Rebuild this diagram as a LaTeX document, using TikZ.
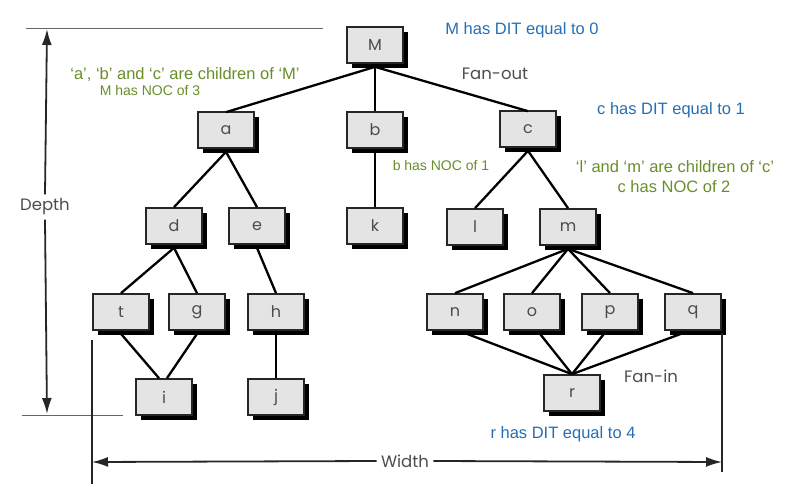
\documentclass[tikz,border=0pt]{standalone}
\usepackage{fontspec}
\setmainfont{Liberation Sans}
\newfontfamily\treefont{Poppins}
\usepackage{tikz}
\usetikzlibrary{arrows.meta,positioning,shadows,calc}
\definecolor{ditblue}{RGB}{38,110,180}
\definecolor{nocgreen}{RGB}{104,142,42}
\definecolor{boxgray}{RGB}{228,228,228}
\tikzset{
  cls/.style={draw=black!85,fill=boxgray,line width=1.7pt,minimum width=56pt,minimum height=36pt,
    inner sep=0pt,text=black!70,font=\treefont\fontsize{16}{18}\selectfont,
    drop shadow={shadow xshift=5pt,shadow yshift=-5pt,fill=black,opacity=1}},
  dit/.style={text=ditblue,font=\fontsize{16.5}{19}\selectfont},
  noc/.style={text=nocgreen,font=\fontsize{16.5}{19}\selectfont},
  nocsmall/.style={text=nocgreen,font=\fontsize{14}{16}\selectfont},
  dimtext/.style={text=black!70,font=\treefont\fontsize{16.5}{18}\selectfont},
  dimline/.style={line width=1.8pt,black!85},
  extline/.style={line width=1pt,black!60},
  dimtip/.style={-{Latex[length=16pt,width=10pt]}}
}
\begin{document}
\begin{tikzpicture}[x=1pt,y=-1pt,line width=2.3pt]
\useasboundingbox (0,0) rectangle (791,486);
% classes
\node (vM) at (375,45) [cls] {M};
\node (va) at (226,130) [cls] {a};
\node (vb) at (375,130) [cls] {b};
\node (vc) at (528,129) [cls] {c};
\node (vd) at (174,226) [cls] {d};
\node (ve) at (257,226) [cls] {e};
\node (vk) at (375,226) [cls] {k};
\node (vl) at (475,227) [cls] {l};
\node (vm) at (568,227) [cls] {m};
\node (vt) at (121,312) [cls] {t};
\node (vg) at (197,312) [cls] {g};
\node (vh) at (276,312) [cls] {h};
\node (vn) at (455,312) [cls] {n};
\node (vo) at (532,312) [cls] {o};
\node (vp) at (610,312) [cls] {p};
\node (vq) at (693,312) [cls] {q};
\node (vi) at (164,397) [cls] {i};
\node (vj) at (276,397) [cls] {j};
\node (vr) at (572,393) [cls] {r};

\draw ([yshift=-3pt]vM.south) edge ([yshift=-1pt]va.north);
\draw ([yshift=-3pt]vM.south) edge (vb.north);
\draw ([yshift=-3pt]vM.south) edge ([yshift=-1pt]vc.north);
\draw ([yshift=-3pt]va.south) edge (vd.north);
\draw ([yshift=-3pt]va.south) edge (ve.north);
\draw ([yshift=-3pt]vb.south) edge (vk.north);
\draw ([yshift=-3pt]vc.south) edge (vl.north);
\draw ([yshift=-3pt]vc.south) edge (vm.north);
\draw ([yshift=-3pt]vd.south) edge (vt.north);
\draw ([yshift=-3pt]vd.south) edge (vg.north);
\draw ([yshift=-3pt]ve.south) edge (vh.north);
\draw ([yshift=-3pt]vt.south) edge ([xshift=-5pt]vi.north);
\draw ([yshift=-3pt]vg.south) edge ([xshift=3pt]vi.north);
\draw ([yshift=-3pt]vh.south) edge (vj.north);
\draw ([yshift=-3pt]vm.south) edge (vn.north);
\draw ([yshift=-3pt]vm.south) edge (vo.north);
\draw ([yshift=-3pt]vm.south) edge (vp.north);
\draw ([yshift=-3pt]vm.south) edge (vq.north);
\draw ([xshift=12pt,yshift=-3pt]vn.south) edge (vr.north);
\draw ([xshift=8pt,yshift=-3pt]vo.south) edge (vr.north);
\draw ([xshift=-6pt,yshift=-3pt]vp.south) edge (vr.north);
\draw ([xshift=-12pt,yshift=-3pt]vq.south) edge (vr.north);

% depth and width
\node (depth) at (45,207) [dimtext] {Depth};
\coordinate (dtop) at (47,29);
\coordinate (dbot) at (47,414);
\draw[extline] (26,29) -- (323,29);
\draw[extline] (22,415) -- (123,415);
\draw[dimline,dimtip] (depth.north) -- (dtop);
\draw[dimline,dimtip] (depth.south) -- (dbot);
\node (width) at (405,461) [dimtext] {Width};
\coordinate (wleft) at (92,462);
\coordinate (wright) at (722,462);
\draw[dimline] (92,340) -- (92,484);
\draw[dimline] (722,333) -- (722,472);
\draw[dimline,dimtip] (width.west) -- (wleft);
\draw[dimline,dimtip] (width.east) -- (wright);
\node (fanout) at (495,74) [dimtext] {Fan-out};
\node (fanin) at (651,376) [dimtext] {Fan-in};

% annotations
\node (ditM) at (522,30) [dit] {M has DIT equal to 0};
\node (ditc) at (671,110) [dit] {c has DIT equal to 1};
\node (ditr) at (563,434) [dit] {r has DIT equal to 4};
\node (chM) at (185,75) [noc] {‘a’, ‘b’ and ‘c’ are children of ‘M’};
\node (nocM) at (150,90) [nocsmall] {M has NOC of 3};
\node (nocb) at (441,165) [nocsmall] {b has NOC of 1};
\node (chc) at (675,167) [noc] {‘l’ and ‘m’ are children of ‘c’};
\node (nocc) at (674,187) [noc] {c has NOC of 2};
\end{tikzpicture}
\end{document}
